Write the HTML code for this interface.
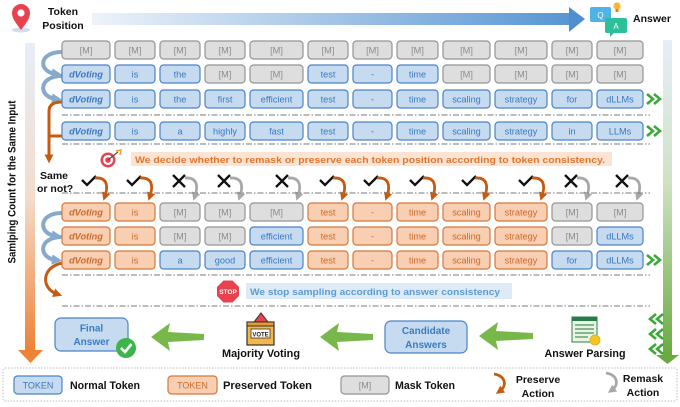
<!DOCTYPE html>
<html><head><meta charset="utf-8"><style>
html,body{margin:0;padding:0;background:#fff;}
svg{display:block;}
.nb{fill:#c6dbf0;stroke:#4a84c6;stroke-width:1.2}
.ob{fill:#f8cfb2;stroke:#d5773a;stroke-width:1.2}
.mb{fill:#dedede;stroke:#949494;stroke-width:1.2}
text.t{font-family:"Liberation Sans",sans-serif;font-size:9.2px;text-anchor:middle}
.nt{fill:#3b78bf}.ot{fill:#c86a2e}.mt{fill:#8c8c8c}
.dv{font-weight:bold;font-style:italic}
.h{font-family:"Liberation Sans",sans-serif;font-weight:bold;fill:#111}
.dash{stroke:#7a7a7a;stroke-width:1;stroke-dasharray:6 2 1.5 2;fill:none}
</style></head><body>
<svg width="680" height="407" viewBox="0 0 680 407" xmlns="http://www.w3.org/2000/svg">
<defs>
<linearGradient id="gTop" x1="0" y1="0" x2="1" y2="0"><stop offset="0" stop-color="#eef3fa"/><stop offset="1" stop-color="#5896d3"/></linearGradient>
<linearGradient id="gLeft" x1="0" y1="0" x2="0" y2="1"><stop offset="0" stop-color="#e6eef9"/><stop offset="0.5" stop-color="#f4dccb"/><stop offset="1" stop-color="#ee8236"/></linearGradient>
<linearGradient id="gRight" x1="0" y1="0" x2="0" y2="1"><stop offset="0" stop-color="#e6eef9"/><stop offset="0.45" stop-color="#cfe2c4"/><stop offset="1" stop-color="#6aaa3e"/></linearGradient>
<marker id="ao" viewBox="0 0 10 10" refX="4" refY="5" markerWidth="3" markerHeight="3" orient="auto"><path d="M0,0 L10,5 L0,10 z" fill="#c55a11"/></marker>
<marker id="ag" viewBox="0 0 10 10" refX="4" refY="5" markerWidth="3" markerHeight="3" orient="auto"><path d="M0,0 L10,5 L0,10 z" fill="#a8a8a8"/></marker>
<marker id="ab" viewBox="0 0 10 10" refX="4" refY="5" markerWidth="2.6" markerHeight="2.6" orient="auto"><path d="M0,0 L10,5 L0,10 z" fill="#86a9cc"/></marker>
</defs>

<!-- top -->
<ellipse cx="21" cy="30" rx="9" ry="2.5" fill="#d3dcea"/>
<path d="M21 30 C15 22 12 18 12 13 A9 9 0 0 1 30 13 C30 18 27 22 21 30 Z" fill="#e8424f"/>
<circle cx="21" cy="13" r="3.6" fill="#fff"/>
<text class="h" x="63" y="15" font-size="10.5" text-anchor="middle">Token</text>
<text class="h" x="63" y="29" font-size="10.5" text-anchor="middle">Position</text>
<rect x="92" y="13" width="478" height="12" fill="url(#gTop)"/>
<polygon points="569,7 585,19 569,32" fill="#4f8fd0"/>
<rect x="590" y="7" width="21" height="15" rx="2" fill="#4fb3e8"/>
<text x="600.5" y="18" font-family="Liberation Sans,sans-serif" font-size="8" fill="#fff" text-anchor="middle">Q</text>
<rect x="605" y="18" width="22" height="15" rx="2" fill="#2bbf9a"/>
<polygon points="610,33 614,33 610,37" fill="#2bbf9a"/>
<text x="616" y="29" font-family="Liberation Sans,sans-serif" font-size="8" fill="#fff" text-anchor="middle">A</text>
<circle cx="617" cy="6" r="3.6" fill="#f7b731"/><rect x="615.5" y="9" width="3" height="3" fill="#e07b2e"/>
<text class="h" x="652" y="22" font-size="10.5" text-anchor="middle">Answer</text>

<!-- left bar -->
<rect x="25" y="43" width="10" height="308" fill="url(#gLeft)"/>
<polygon points="18,350 43,350 30.5,363" fill="#ee8236"/>
<text class="h" transform="translate(15.5,182) rotate(-90)" font-size="11" text-anchor="middle" textLength="163" lengthAdjust="spacingAndGlyphs">Samlping Count for the Same Input</text>

<!-- right bar -->
<rect x="663" y="40" width="9" height="316" fill="url(#gRight)"/>
<polygon points="656,355 679,355 667.5,364" fill="#6aaa3e"/>

<!-- loops -->
<path d="M62 52 C38 52 38 72 56 74" stroke="#86a9cc" stroke-width="4" fill="none" marker-end="url(#ab)"/>
<path d="M62 76 C38 76 38 97 56 99" stroke="#86a9cc" stroke-width="4" fill="none" marker-end="url(#ab)"/>
<path d="M62 213 C38 213 38 234 56 236" stroke="#86a9cc" stroke-width="4" fill="none" marker-end="url(#ab)"/>
<path d="M62 237 C38 237 38 258 56 260" stroke="#86a9cc" stroke-width="4" fill="none" marker-end="url(#ab)"/>
<path d="M62 102 Q49 102 49 111 L49 158" stroke="#c55a11" stroke-width="3" fill="none" marker-end="url(#ao)"/>
<path d="M62 136 L49 136" stroke="#c55a11" stroke-width="3" fill="none"/>
<path d="M63 263 C42 266 40 288 57 294" stroke="#c55a11" stroke-width="3" fill="none" marker-end="url(#ao)"/>

<!-- Row 1 -->
<g>
<rect x="62" y="41" width="48" height="18" rx="3.5" class="mb"/><text class="t mt" x="86" y="53.5">[M]</text>
<rect x="115" y="41" width="40" height="18" rx="3.5" class="mb"/><text class="t mt" x="135" y="53.5">[M]</text>
<rect x="160" y="41" width="40" height="18" rx="3.5" class="mb"/><text class="t mt" x="180" y="53.5">[M]</text>
<rect x="205" y="41" width="40" height="18" rx="3.5" class="mb"/><text class="t mt" x="225" y="53.5">[M]</text>
<rect x="250" y="41" width="53" height="18" rx="3.5" class="mb"/><text class="t mt" x="276.5" y="53.5">[M]</text>
<rect x="308" y="41" width="40" height="18" rx="3.5" class="mb"/><text class="t mt" x="328" y="53.5">[M]</text>
<rect x="353" y="41" width="39" height="18" rx="3.5" class="mb"/><text class="t mt" x="372.5" y="53.5">[M]</text>
<rect x="397" y="41" width="41" height="18" rx="3.5" class="mb"/><text class="t mt" x="417.5" y="53.5">[M]</text>
<rect x="443" y="41" width="47" height="18" rx="3.5" class="mb"/><text class="t mt" x="466.5" y="53.5">[M]</text>
<rect x="495" y="41" width="52" height="18" rx="3.5" class="mb"/><text class="t mt" x="521" y="53.5">[M]</text>
<rect x="552" y="41" width="40" height="18" rx="3.5" class="mb"/><text class="t mt" x="572" y="53.5">[M]</text>
<rect x="597" y="41" width="46" height="18" rx="3.5" class="mb"/><text class="t mt" x="620" y="53.5">[M]</text>
</g>
<!-- Row 2 -->
<g>
<rect x="62" y="65" width="48" height="18" rx="3.5" class="nb"/><text class="t nt dv" x="86" y="77.5">dVoting</text>
<rect x="115" y="65" width="40" height="18" rx="3.5" class="nb"/><text class="t nt" x="135" y="77.5">is</text>
<rect x="160" y="65" width="40" height="18" rx="3.5" class="nb"/><text class="t nt" x="180" y="77.5">the</text>
<rect x="205" y="65" width="40" height="18" rx="3.5" class="mb"/><text class="t mt" x="225" y="77.5">[M]</text>
<rect x="250" y="65" width="53" height="18" rx="3.5" class="mb"/><text class="t mt" x="276.5" y="77.5">[M]</text>
<rect x="308" y="65" width="40" height="18" rx="3.5" class="nb"/><text class="t nt" x="328" y="77.5">test</text>
<rect x="353" y="65" width="39" height="18" rx="3.5" class="nb"/><text class="t nt" x="372.5" y="77.5">-</text>
<rect x="397" y="65" width="41" height="18" rx="3.5" class="nb"/><text class="t nt" x="417.5" y="77.5">time</text>
<rect x="443" y="65" width="47" height="18" rx="3.5" class="mb"/><text class="t mt" x="466.5" y="77.5">[M]</text>
<rect x="495" y="65" width="52" height="18" rx="3.5" class="mb"/><text class="t mt" x="521" y="77.5">[M]</text>
<rect x="552" y="65" width="40" height="18" rx="3.5" class="mb"/><text class="t mt" x="572" y="77.5">[M]</text>
<rect x="597" y="65" width="46" height="18" rx="3.5" class="mb"/><text class="t mt" x="620" y="77.5">[M]</text>
</g>
<!-- Row 3 -->
<g>
<rect x="62" y="90" width="48" height="18" rx="3.5" class="nb"/><text class="t nt dv" x="86" y="102.5">dVoting</text>
<rect x="115" y="90" width="40" height="18" rx="3.5" class="nb"/><text class="t nt" x="135" y="102.5">is</text>
<rect x="160" y="90" width="40" height="18" rx="3.5" class="nb"/><text class="t nt" x="180" y="102.5">the</text>
<rect x="205" y="90" width="40" height="18" rx="3.5" class="nb"/><text class="t nt" x="225" y="102.5">first</text>
<rect x="250" y="90" width="53" height="18" rx="3.5" class="nb"/><text class="t nt" x="276.5" y="102.5">efficient</text>
<rect x="308" y="90" width="40" height="18" rx="3.5" class="nb"/><text class="t nt" x="328" y="102.5">test</text>
<rect x="353" y="90" width="39" height="18" rx="3.5" class="nb"/><text class="t nt" x="372.5" y="102.5">-</text>
<rect x="397" y="90" width="41" height="18" rx="3.5" class="nb"/><text class="t nt" x="417.5" y="102.5">time</text>
<rect x="443" y="90" width="47" height="18" rx="3.5" class="nb"/><text class="t nt" x="466.5" y="102.5">scaling</text>
<rect x="495" y="90" width="52" height="18" rx="3.5" class="nb"/><text class="t nt" x="521" y="102.5">strategy</text>
<rect x="552" y="90" width="40" height="18" rx="3.5" class="nb"/><text class="t nt" x="572" y="102.5">for</text>
<rect x="597" y="90" width="46" height="18" rx="3.5" class="nb"/><text class="t nt" x="620" y="102.5">dLLMs</text>
</g>
<path class="dash" d="M62 115 H650"/>
<!-- Row 4 -->
<g>
<rect x="62" y="122" width="48" height="18" rx="3.5" class="nb"/><text class="t nt dv" x="86" y="134.5">dVoting</text>
<rect x="115" y="122" width="40" height="18" rx="3.5" class="nb"/><text class="t nt" x="135" y="134.5">is</text>
<rect x="160" y="122" width="40" height="18" rx="3.5" class="nb"/><text class="t nt" x="180" y="134.5">a</text>
<rect x="205" y="122" width="40" height="18" rx="3.5" class="nb"/><text class="t nt" x="225" y="134.5">highly</text>
<rect x="250" y="122" width="53" height="18" rx="3.5" class="nb"/><text class="t nt" x="276.5" y="134.5">fast</text>
<rect x="308" y="122" width="40" height="18" rx="3.5" class="nb"/><text class="t nt" x="328" y="134.5">test</text>
<rect x="353" y="122" width="39" height="18" rx="3.5" class="nb"/><text class="t nt" x="372.5" y="134.5">-</text>
<rect x="397" y="122" width="41" height="18" rx="3.5" class="nb"/><text class="t nt" x="417.5" y="134.5">time</text>
<rect x="443" y="122" width="47" height="18" rx="3.5" class="nb"/><text class="t nt" x="466.5" y="134.5">scaling</text>
<rect x="495" y="122" width="52" height="18" rx="3.5" class="nb"/><text class="t nt" x="521" y="134.5">strategy</text>
<rect x="552" y="122" width="40" height="18" rx="3.5" class="nb"/><text class="t nt" x="572" y="134.5">in</text>
<rect x="597" y="122" width="46" height="18" rx="3.5" class="nb"/><text class="t nt" x="620" y="134.5">LLMs</text>
</g>
<path class="dash" d="M62 144 H650"/>

<!-- chevrons -->
<g stroke="#3aa935" stroke-width="2.6" fill="none" stroke-linejoin="miter">
<path d="M647 94 L653 99 L647 104 M654 94 L660 99 L654 104"/>
<path d="M647 126 L653 131 L647 136 M654 126 L660 131 L654 136"/>
<path d="M647 255 L653 260 L647 265 M654 255 L660 260 L654 265"/>
<path d="M656 314 L650 319 L656 324 M663 314 L657 319 L663 324"/>
<path d="M656 329 L650 334 L656 339 M663 329 L657 334 L663 339"/>
<path d="M656 344 L650 349 L656 354 M663 344 L657 349 L663 354"/>
</g>

<!-- banner 1 -->
<circle cx="108" cy="160" r="7.5" fill="#e8424f"/><circle cx="108" cy="160" r="5" fill="#fff"/><circle cx="108" cy="160" r="2.8" fill="#e8424f"/>
<path d="M108 160 L118 152" stroke="#555" stroke-width="1.3"/><path d="M116 151 L121 150 L120 155" stroke="#f0a030" stroke-width="1.5" fill="none"/>
<rect x="131" y="152" width="481" height="14" fill="#fce4d4"/>
<text x="135" y="163" font-family="Liberation Sans,sans-serif" font-weight="bold" font-size="9.5" fill="#e2772f" textLength="470" lengthAdjust="spacingAndGlyphs">We decide whether to remask or preserve each token position according to token consistency.</text>

<text class="h" x="40" y="179" font-size="10.5">Same</text>
<text class="h" x="37" y="192" font-size="10.5">or not?</text>

<!-- marks -->
<g stroke="#111" fill="none" stroke-width="2.3">
<path d="M82 180 L87 185 L96 176"/>
<path d="M127 180 L132 185 L141 176"/>
<path d="M173 175 L185 187 M185 175 L173 187"/>
<path d="M218 175 L230 187 M230 175 L218 187"/>
<path d="M276 175 L288 187 M288 175 L276 187"/>
<path d="M320 180 L325 185 L334 176"/>
<path d="M364 180 L369 185 L378 176"/>
<path d="M410 180 L415 185 L424 176"/>
<path d="M462 180 L467 185 L476 176"/>
<path d="M519 180 L524 185 L533 176"/>
<path d="M565 175 L577 187 M577 175 L565 187"/>
<path d="M616 175 L628 187 M628 175 L616 187"/>
</g>
<g fill="none" stroke-width="2.8">
<path d="M95 178 C108 177 108 187 105 196" stroke="#c55a11" marker-end="url(#ao)"/>
<path d="M140 178 C153 177 153 187 150 196" stroke="#c55a11" marker-end="url(#ao)"/>
<path d="M185 178 C198 177 198 187 195 196" stroke="#a8a8a8" marker-end="url(#ag)"/>
<path d="M230 178 C243 177 243 187 240 196" stroke="#a8a8a8" marker-end="url(#ag)"/>
<path d="M288 178 C301 177 301 187 298 196" stroke="#a8a8a8" marker-end="url(#ag)"/>
<path d="M333 178 C346 177 346 187 343 196" stroke="#c55a11" marker-end="url(#ao)"/>
<path d="M377 178 C390 177 390 187 387 196" stroke="#c55a11" marker-end="url(#ao)"/>
<path d="M423 178 C436 177 436 187 433 196" stroke="#c55a11" marker-end="url(#ao)"/>
<path d="M475 178 C488 177 488 187 485 196" stroke="#c55a11" marker-end="url(#ao)"/>
<path d="M532 178 C545 177 545 187 542 196" stroke="#c55a11" marker-end="url(#ao)"/>
<path d="M577 178 C590 177 590 187 587 196" stroke="#a8a8a8" marker-end="url(#ag)"/>
<path d="M628 178 C641 177 641 187 638 196" stroke="#a8a8a8" marker-end="url(#ag)"/>
</g>
<path class="dash" d="M62 193 H650"/>

<!-- Row 5 -->
<g>
<rect x="62" y="203" width="48" height="18" rx="3.5" class="ob"/><text class="t ot dv" x="86" y="215.5">dVoting</text>
<rect x="115" y="203" width="40" height="18" rx="3.5" class="ob"/><text class="t ot" x="135" y="215.5">is</text>
<rect x="160" y="203" width="40" height="18" rx="3.5" class="mb"/><text class="t mt" x="180" y="215.5">[M]</text>
<rect x="205" y="203" width="40" height="18" rx="3.5" class="mb"/><text class="t mt" x="225" y="215.5">[M]</text>
<rect x="250" y="203" width="53" height="18" rx="3.5" class="mb"/><text class="t mt" x="276.5" y="215.5">[M]</text>
<rect x="308" y="203" width="40" height="18" rx="3.5" class="ob"/><text class="t ot" x="328" y="215.5">test</text>
<rect x="353" y="203" width="39" height="18" rx="3.5" class="ob"/><text class="t ot" x="372.5" y="215.5">-</text>
<rect x="397" y="203" width="41" height="18" rx="3.5" class="ob"/><text class="t ot" x="417.5" y="215.5">time</text>
<rect x="443" y="203" width="47" height="18" rx="3.5" class="ob"/><text class="t ot" x="466.5" y="215.5">scaling</text>
<rect x="495" y="203" width="52" height="18" rx="3.5" class="ob"/><text class="t ot" x="521" y="215.5">strategy</text>
<rect x="552" y="203" width="40" height="18" rx="3.5" class="mb"/><text class="t mt" x="572" y="215.5">[M]</text>
<rect x="597" y="203" width="46" height="18" rx="3.5" class="mb"/><text class="t mt" x="620" y="215.5">[M]</text>
</g>
<!-- Row 6 -->
<g>
<rect x="62" y="227" width="48" height="18" rx="3.5" class="ob"/><text class="t ot dv" x="86" y="239.5">dVoting</text>
<rect x="115" y="227" width="40" height="18" rx="3.5" class="ob"/><text class="t ot" x="135" y="239.5">is</text>
<rect x="160" y="227" width="40" height="18" rx="3.5" class="mb"/><text class="t mt" x="180" y="239.5">[M]</text>
<rect x="205" y="227" width="40" height="18" rx="3.5" class="mb"/><text class="t mt" x="225" y="239.5">[M]</text>
<rect x="250" y="227" width="53" height="18" rx="3.5" class="nb"/><text class="t nt" x="276.5" y="239.5">efficient</text>
<rect x="308" y="227" width="40" height="18" rx="3.5" class="ob"/><text class="t ot" x="328" y="239.5">test</text>
<rect x="353" y="227" width="39" height="18" rx="3.5" class="ob"/><text class="t ot" x="372.5" y="239.5">-</text>
<rect x="397" y="227" width="41" height="18" rx="3.5" class="ob"/><text class="t ot" x="417.5" y="239.5">time</text>
<rect x="443" y="227" width="47" height="18" rx="3.5" class="ob"/><text class="t ot" x="466.5" y="239.5">scaling</text>
<rect x="495" y="227" width="52" height="18" rx="3.5" class="ob"/><text class="t ot" x="521" y="239.5">strategy</text>
<rect x="552" y="227" width="40" height="18" rx="3.5" class="mb"/><text class="t mt" x="572" y="239.5">[M]</text>
<rect x="597" y="227" width="46" height="18" rx="3.5" class="nb"/><text class="t nt" x="620" y="239.5">dLLMs</text>
</g>
<!-- Row 7 -->
<g>
<rect x="62" y="251" width="48" height="18" rx="3.5" class="ob"/><text class="t ot dv" x="86" y="263.5">dVoting</text>
<rect x="115" y="251" width="40" height="18" rx="3.5" class="ob"/><text class="t ot" x="135" y="263.5">is</text>
<rect x="160" y="251" width="40" height="18" rx="3.5" class="nb"/><text class="t nt" x="180" y="263.5">a</text>
<rect x="205" y="251" width="40" height="18" rx="3.5" class="nb"/><text class="t nt" x="225" y="263.5">good</text>
<rect x="250" y="251" width="53" height="18" rx="3.5" class="nb"/><text class="t nt" x="276.5" y="263.5">efficient</text>
<rect x="308" y="251" width="40" height="18" rx="3.5" class="ob"/><text class="t ot" x="328" y="263.5">test</text>
<rect x="353" y="251" width="39" height="18" rx="3.5" class="ob"/><text class="t ot" x="372.5" y="263.5">-</text>
<rect x="397" y="251" width="41" height="18" rx="3.5" class="ob"/><text class="t ot" x="417.5" y="263.5">time</text>
<rect x="443" y="251" width="47" height="18" rx="3.5" class="ob"/><text class="t ot" x="466.5" y="263.5">scaling</text>
<rect x="495" y="251" width="52" height="18" rx="3.5" class="ob"/><text class="t ot" x="521" y="263.5">strategy</text>
<rect x="552" y="251" width="40" height="18" rx="3.5" class="nb"/><text class="t nt" x="572" y="263.5">for</text>
<rect x="597" y="251" width="46" height="18" rx="3.5" class="nb"/><text class="t nt" x="620" y="263.5">dLLMs</text>
</g>
<path class="dash" d="M62 275 H650"/>

<!-- stop banner -->
<polygon points="223.5,280.5 232.5,280.5 239,287 239,296 232.5,302.5 223.5,302.5 217,296 217,287" fill="#e8424f"/>
<text x="228" y="294" font-family="Liberation Sans,sans-serif" font-weight="bold" font-size="6.5" fill="#fff" text-anchor="middle">STOP</text>
<rect x="246" y="283" width="266" height="16" fill="#deebf7"/>
<text x="250" y="295" font-family="Liberation Sans,sans-serif" font-weight="bold" font-size="9.5" fill="#5b9bd5" textLength="250" lengthAdjust="spacingAndGlyphs">We stop sampling according to answer consistency</text>
<path class="dash" d="M62 306 H650"/>

<!-- bottom flow -->
<rect x="55" y="318" width="73" height="33" rx="6" fill="#c6dbf0" stroke="#4a84c6" stroke-width="1.2"/>
<text x="91.5" y="331.5" font-family="Liberation Sans,sans-serif" font-weight="bold" font-size="10" fill="#3a7cc0" text-anchor="middle">Final</text>
<text x="91.5" y="345" font-family="Liberation Sans,sans-serif" font-weight="bold" font-size="10" fill="#3a7cc0" text-anchor="middle">Answer</text>
<circle cx="126" cy="348" r="10" fill="#3cb54a"/>
<path d="M121 348 L125 352 L131.5 344" stroke="#fff" stroke-width="2.6" fill="none"/>

<polygon points="151,337 170,323 168,332 204,334 204,340 168,342 170,351" fill="#78b84a"/>
<polygon points="320,337 339,323 337,332 373,334 373,340 337,342 339,351" fill="#78b84a"/>
<polygon points="479,336 498,322 496,331 533,333 533,339 496,341 498,350" fill="#78b84a"/>

<!-- vote icon -->
<polygon points="254,322 261,313 268,322" fill="#e8424f" stroke="#333" stroke-width="1"/>
<rect x="247" y="322" width="27" height="23" fill="#f5b64a" stroke="#333" stroke-width="1.2"/>
<rect x="247" y="322" width="27" height="4" fill="#e89a2e" stroke="#333" stroke-width="1"/>
<rect x="251" y="329" width="19" height="9" fill="#fff" stroke="#333" stroke-width="0.8"/>
<text x="260.5" y="336.5" font-family="Liberation Sans,sans-serif" font-weight="bold" font-size="6" fill="#222" text-anchor="middle">VOTE</text>
<text class="h" x="261" y="357" font-size="11" text-anchor="middle" textLength="78" lengthAdjust="spacingAndGlyphs">Majority Voting</text>

<rect x="385" y="321" width="82" height="32" rx="6" fill="#c6dbf0" stroke="#4a84c6" stroke-width="1.2"/>
<text x="426" y="334" font-family="Liberation Sans,sans-serif" font-weight="bold" font-size="10" fill="#3a7cc0" text-anchor="middle">Candidate</text>
<text x="426" y="348" font-family="Liberation Sans,sans-serif" font-weight="bold" font-size="10" fill="#3a7cc0" text-anchor="middle">Answers</text>

<!-- parsing icon -->
<rect x="572" y="317" width="25" height="25" fill="#e8f5e0" stroke="#2e7d4a" stroke-width="1"/>
<rect x="572" y="317" width="25" height="4" fill="#2a7a4a"/>
<g stroke="#4a8f62" stroke-width="1.2"><path d="M575 325 H594 M575 329 H594 M575 333 H594 M575 337 H588"/></g>
<circle cx="595" cy="340" r="5" fill="#f3c623" stroke="#e0a81a" stroke-width="0.8"/>
<text class="h" x="585" y="357" font-size="11" text-anchor="middle" textLength="81" lengthAdjust="spacingAndGlyphs">Answer Parsing</text>

<!-- legend -->
<rect x="3" y="368" width="674" height="33" rx="2" fill="#fff" stroke="#bdbdbd" stroke-width="1" stroke-dasharray="1.5 1.5"/>
<rect x="14" y="376" width="48" height="18" rx="3.5" class="nb"/>
<text x="38" y="388.5" font-family="Liberation Sans,sans-serif" font-size="9" fill="#3b78bf" text-anchor="middle">TOKEN</text>
<text class="h" x="70" y="389" font-size="11" textLength="70" lengthAdjust="spacingAndGlyphs">Normal Token</text>
<rect x="168" y="376" width="49" height="18" rx="3.5" class="ob"/>
<text x="192.5" y="388.5" font-family="Liberation Sans,sans-serif" font-size="9" fill="#c86a2e" text-anchor="middle">TOKEN</text>
<text class="h" x="223" y="389" font-size="11" textLength="89" lengthAdjust="spacingAndGlyphs">Preserved Token</text>
<rect x="341" y="376" width="48" height="18" rx="3.5" class="mb"/>
<text x="365" y="388.5" font-family="Liberation Sans,sans-serif" font-size="9" fill="#8c8c8c" text-anchor="middle">[M]</text>
<text class="h" x="395" y="389" font-size="11" textLength="60" lengthAdjust="spacingAndGlyphs">Mask Token</text>
<path d="M494 374 C506 376 507 386 500 391" stroke="#c55a11" stroke-width="2.8" fill="none" marker-end="url(#ao)"/>
<text class="h" x="538" y="383" font-size="10.5" text-anchor="middle">Preserve</text>
<text class="h" x="538" y="397" font-size="10.5" text-anchor="middle">Action</text>
<path d="M606 373 C618 375 619 385 612 390" stroke="#a8a8a8" stroke-width="2.8" fill="none" marker-end="url(#ag)"/>
<text class="h" x="643" y="382" font-size="10.5" text-anchor="middle">Remask</text>
<text class="h" x="643" y="396" font-size="10.5" text-anchor="middle">Action</text>
</svg>
</body></html>
